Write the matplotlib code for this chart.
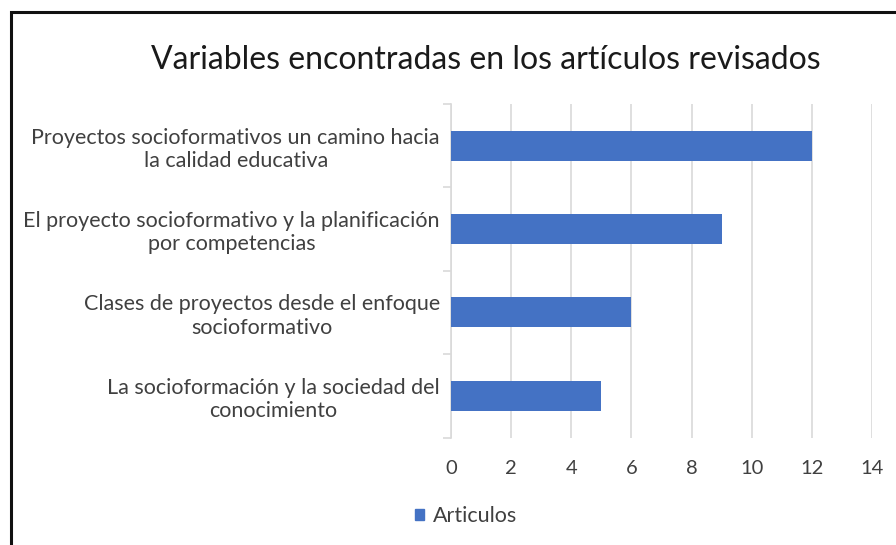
import matplotlib
matplotlib.use("Agg")
import matplotlib.pyplot as plt
from matplotlib.patches import Rectangle

categories = [
    "Proyectos socioformativos un camino hacia\nla calidad educativa",
    "El proyecto socioformativo y la planificación\npor competencias",
    "Clases de proyectos desde el enfoque\nsocioformativo",
    "La socioformación y la sociedad del\nconocimiento",
]
values = [12, 9, 6, 5]
xticks = [0, 2, 4, 6, 8, 10, 12, 14]
series_name = "Articulos"
title = "Variables encontradas en los artículos revisados"

plt.rcParams['font.family'] = ['Lato', 'DejaVu Sans']

W, H = 896, 545
fig = plt.figure(figsize=(W / 100, H / 100), dpi=100)

# outer border (cut at right and bottom as in the reference)
fig.patches.append(Rectangle((11 / W, -0.1), 2.0, (H - 12) / H + 0.1,
                             transform=fig.transFigure, fill=False,
                             edgecolor='#111111', linewidth=2.2, zorder=10))

ax = fig.add_axes([451 / W, 1 - 437.5 / H, 421 / W, (437.5 - 104) / H])
color = '#4472C4'
ypos = list(range(len(categories)))
ax.barh(ypos, values, height=0.36, color=color, zorder=3)
ax.set_ylim(len(categories) - 0.5, -0.5)
ax.set_xlim(0, 14)
ax.set_xticks(xticks)
ax.set_xticklabels([str(t) for t in xticks])
ax.grid(axis='x', color='#D9D9D9', linewidth=1.2, zorder=0)
ax.set_axisbelow(True)

for s in ['top', 'right', 'bottom']:
    ax.spines[s].set_visible(False)
ax.spines['left'].set_color('#D9D9D9')
ax.spines['left'].set_linewidth(1.2)

ax.set_yticks(ypos)
ax.set_yticklabels(categories, multialignment='center', fontsize=15.5, color='#404040',
                   linespacing=1.2)
ax.tick_params(axis='y', length=0, pad=8)
ax.set_yticks([i + 0.5 for i in range(-1, len(categories))], minor=True)
ax.tick_params(axis='y', which='minor', length=6, color='#D9D9D9', width=1.2)
ax.tick_params(axis='x', length=0, pad=16, labelsize=14.5, labelcolor='#404040')

fig.text(486 / W, 1 - 60 / H, title, ha='center', va='center', fontsize=23,
         color='#1a1a1a')

handle = Rectangle((0, 0), 1, 1, color=color)
fig.legend([handle], [series_name], loc='center', bbox_to_anchor=(466 / W, 1 - 516 / H),
           frameon=False, fontsize=15.5, handlelength=0.45, handleheight=0.45,
           handletextpad=0.4, labelcolor='#404040')

fig.savefig("out.png", dpi=100)
